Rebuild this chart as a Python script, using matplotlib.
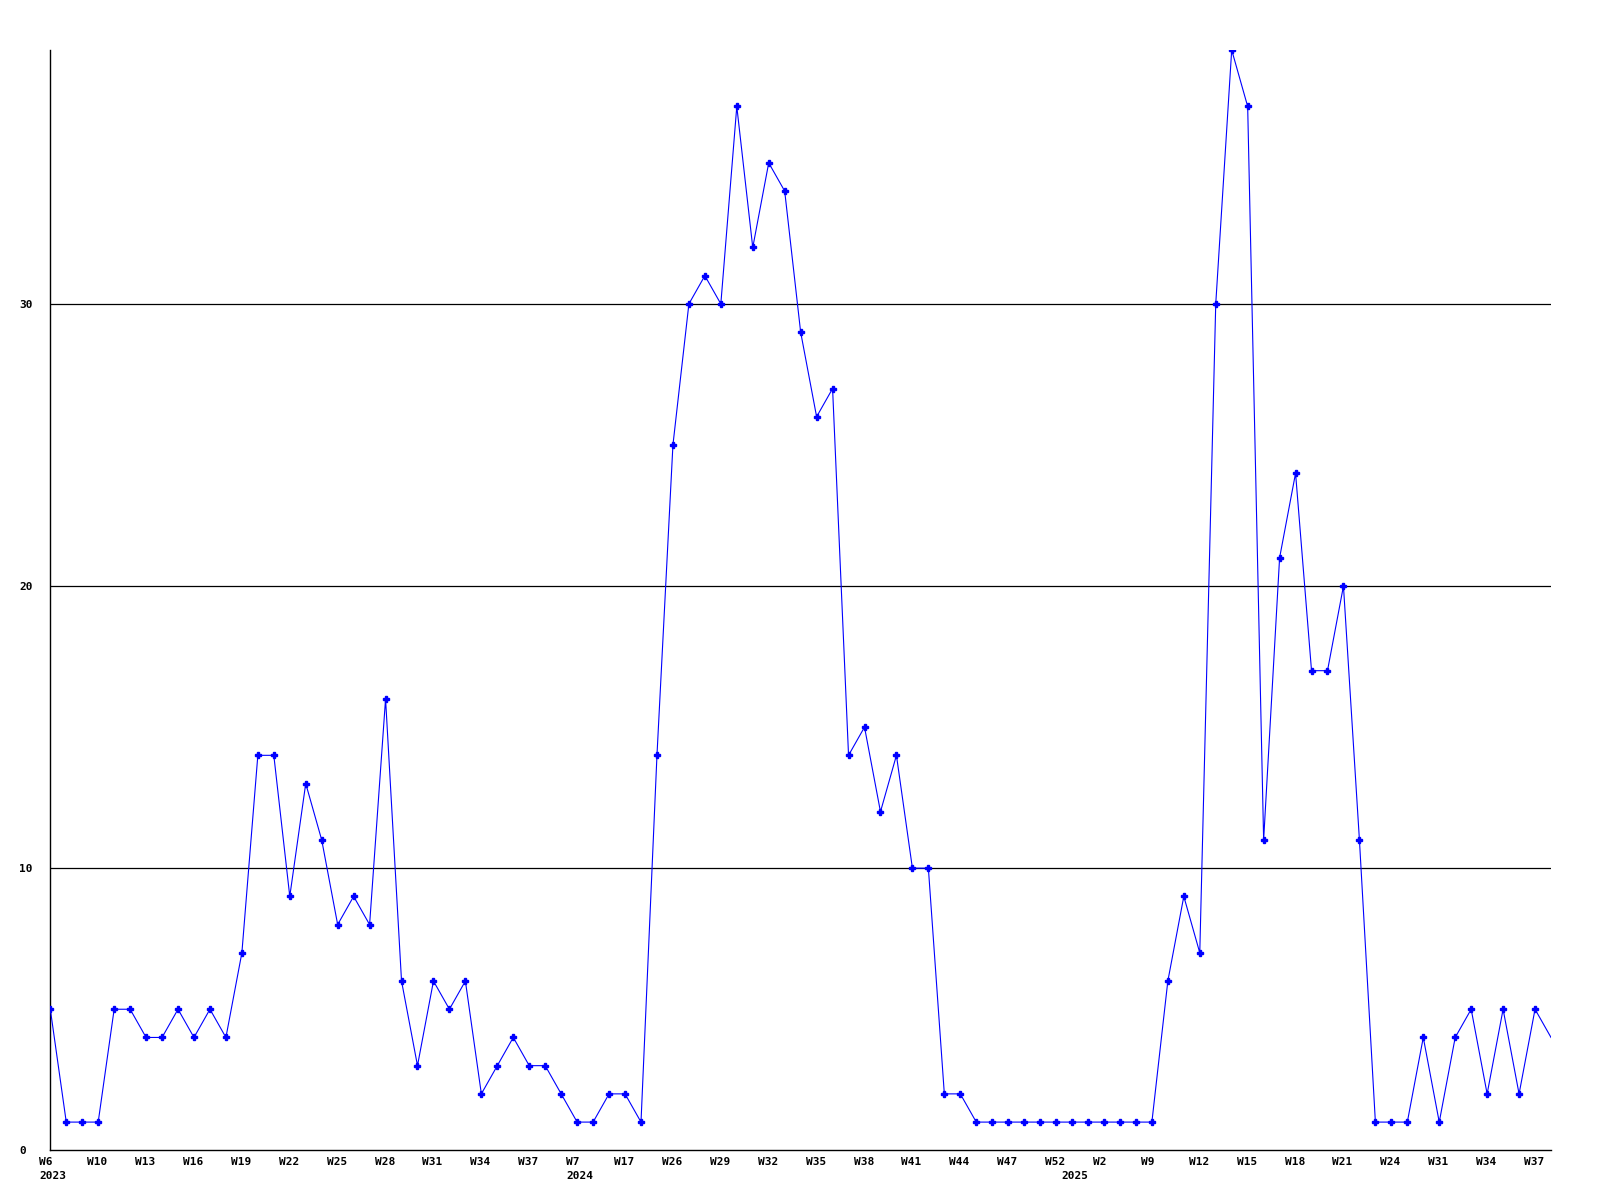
import matplotlib
matplotlib.use("Agg")
import matplotlib.pyplot as plt
import matplotlib.transforms as mtransforms

# weekly counts, one point per sampled week
counts = [5, 1, 1, 1, 5, 5, 4, 4, 5, 4, 5, 4, 7, 14, 14, 9, 13, 11, 8, 9,
          8, 16, 6, 3, 6, 5, 6, 2, 3, 4, 3, 3, 2, 1, 1, 2, 2, 1, 14, 25,
          30, 31, 30, 37, 32, 35, 34, 29, 26, 27, 14, 15, 12, 14, 10, 10, 2, 2, 1, 1,
          1, 1, 1, 1, 1, 1, 1, 1, 1, 1, 6, 9, 7, 30, 39, 37, 11, 21, 24, 17,
          17, 20, 11, 1, 1, 1, 4, 1, 4, 5, 2, 5, 2, 5, 4]

# every third point is labelled
week_labels = ["W6", "W10", "W13", "W16", "W19", "W22", "W25", "W28", "W31", "W34",
               "W37", "W7", "W17", "W26", "W29", "W32", "W35", "W38", "W41", "W44",
               "W47", "W52", "W2", "W9", "W12", "W15", "W18", "W21", "W24", "W31",
               "W34", "W37"]
label_step = 3
years = {0: "2023", 33: "2024", 64: "2025"}

y_ticks = [0, 10, 20, 30]

fig = plt.figure(figsize=(16, 12), dpi=100)
ax = fig.add_axes([50.3 / 1600, 1 - 1150.3 / 1200, 1500.7 / 1600, 1100.3 / 1200])

x = list(range(len(counts)))
ax.plot(x, counts, color="#0000ff", linewidth=0.8, marker="P", markersize=4.0,
        markevery=slice(0, len(counts) - 1), zorder=3)

ax.set_xlim(0, len(counts) - 1)
ax.set_ylim(0, max(counts))

for v in y_ticks[1:]:
    ax.axhline(v, color="black", linewidth=0.9, zorder=1)

for side in ["top", "right"]:
    ax.spines[side].set_visible(False)
for side in ["left", "bottom"]:
    ax.spines[side].set_color("black")
    ax.spines[side].set_linewidth(1.0)

font = dict(family="DejaVu Sans Mono", weight="bold", size=8)

ax.set_yticks(y_ticks)
ax.set_yticklabels([str(v) for v in y_ticks], ha="left", **font)
ax.tick_params(axis="y", length=0, pad=22.3)

# week labels under every third point, years underneath
ax.set_xticks([])
shift = mtransforms.ScaledTranslation(-11 / 100, 0, fig.dpi_scale_trans)
trans = ax.get_xaxis_transform() + shift
for i, lab in enumerate(week_labels):
    pos = i * label_step
    ax.text(pos, -6.5 / 1100.3, lab, transform=trans, ha="left", va="top", **font)
for pos, yr in years.items():
    ax.text(pos, -20.5 / 1100.3, yr, transform=trans, ha="left", va="top", **font)

fig.savefig("out.png", dpi=100, facecolor="white")
